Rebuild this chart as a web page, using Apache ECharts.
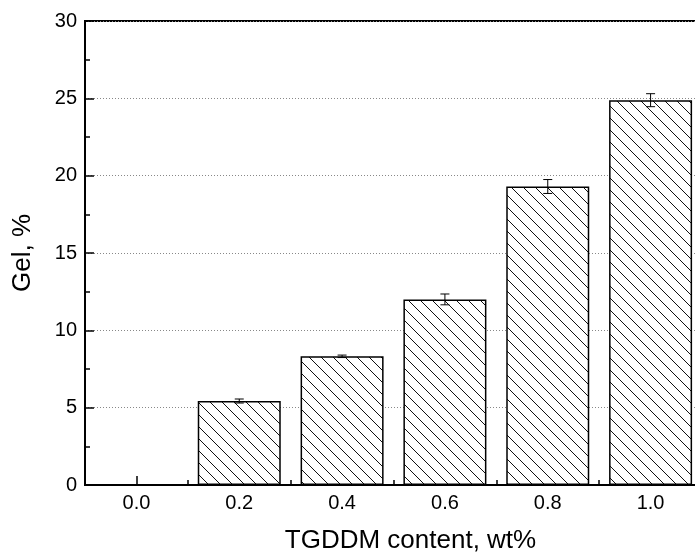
<!DOCTYPE html>
<html>
<head>
<meta charset="utf-8">
<script src="https://cdn.jsdelivr.net/npm/echarts@6/dist/echarts.min.js"></script>
<style>
  html, body { margin: 0; padding: 0; background: #fff; }
  #gelChart { width: 695px; height: 554px; }
</style>
</head>
<body>
<div id="gelChart"></div>
<script>
// data
var contents = [0.0, 0.2, 0.4, 0.6, 0.8, 1.0];
var gelValues = [0, 5.43, 8.32, 12.0, 19.3, 24.88];
var gelErrors = [0, 0.13, 0.08, 0.35, 0.45, 0.42];
var majorTicks = [0.0, 0.2, 0.4, 0.6, 0.8, 1.0];
var minorTicks = [0.1, 0.3, 0.5, 0.7, 0.9];

var FONT = "'Liberation Sans', Arial, Helvetica, sans-serif";

// hatch fill  "\\\\"
function makeHatch() {
  var c = document.createElement("canvas");
  var s = 12;
  c.width = s;
  c.height = s;
  var ctx = c.getContext("2d");
  ctx.fillStyle = "#fff";
  ctx.fillRect(0, 0, s, s);
  ctx.strokeStyle = "#111";
  ctx.lineWidth = 1;
  for (var k = -1; k <= 1; k++) {
    ctx.beginPath();
    ctx.moveTo(k * s, 0);
    ctx.lineTo(k * s + s, s);
    ctx.stroke();
  }
  return c;
}

var barData = [];
var errData = [];
for (var i = 0; i < contents.length; i++) {
  barData.push([contents[i], gelValues[i]]);
  errData.push([contents[i], gelValues[i], gelErrors[i]]);
}

var myChart = echarts.init(document.getElementById("gelChart"));

var option = {
  animation: false,
  textStyle: { fontFamily: FONT },
  grid: {
    show: true,
    left: 85,
    top: 21,
    width: 617,
    height: 464,
    borderColor: "#000",
    borderWidth: 2,
    containLabel: false,
    outerBoundsMode: "none"
  },
  xAxis: [
    {
      type: "value",
      min: -0.1,
      max: 1.1,
      position: "bottom",
      name: "TGDDM content, wt%",
      nameLocation: "middle",
      nameGap: 43,
      nameTextStyle: { fontSize: 26, color: "#000", fontFamily: FONT, padding: [0, 0, 0, 34] },
      axisLine: { show: true, onZero: false, lineStyle: { color: "#000", width: 2 } },
      axisTick: { show: true, inside: true, length: 9, lineStyle: { color: "#000", width: 1.5 }, customValues: majorTicks },
      axisLabel: {
        show: true,
        margin: 8,
        fontSize: 20,
        color: "#000",
        fontFamily: FONT,
        customValues: majorTicks,
        formatter: function (v) { return v.toFixed(1); }
      },
      splitLine: { show: false }
    },
    {
      // minor ticks only
      type: "value",
      min: -0.1,
      max: 1.1,
      position: "bottom",
      axisLine: { show: false, onZero: false },
      axisTick: { show: true, inside: true, length: 5, lineStyle: { color: "#000", width: 1.5 }, customValues: minorTicks },
      axisLabel: { show: false },
      splitLine: { show: false }
    }
  ],
  yAxis: {
    type: "value",
    min: 0,
    max: 30,
    interval: 5,
    name: "Gel, %",
    nameLocation: "middle",
    nameGap: 49,
    nameRotate: 90,
    nameTextStyle: { fontSize: 26, color: "#000", fontFamily: FONT },
    axisLine: { show: true, onZero: false, lineStyle: { color: "#000", width: 2 } },
    axisTick: { show: true, inside: true, length: 9, lineStyle: { color: "#000", width: 1.5 } },
    minorTick: { show: true, splitNumber: 2, length: 5, lineStyle: { color: "#000", width: 1.5 } },
    axisLabel: { margin: 8, fontSize: 20, color: "#000", fontFamily: FONT },
    splitLine: { show: true, lineStyle: { color: "#888", width: 1, type: [1, 2] } }
  },
  series: [
    {
      name: "Gel",
      type: "bar",
      xAxisIndex: 0,
      data: barData,
      barWidth: 83,
      itemStyle: {
        color: { image: makeHatch(), repeat: "repeat" },
        borderColor: "#000",
        borderWidth: 1.5
      },
      z: 3
    },
    {
      name: "err",
      type: "custom",
      xAxisIndex: 0,
      data: errData,
      z: 5,
      renderItem: function (params, api) {
        var e = api.value(2);
        if (!e) return null;
        var x = api.value(0);
        var y = api.value(1);
        var top = api.coord([x, y + e]);
        var bot = api.coord([x, y - e]);
        var cap = 4.5;
        var st = { stroke: "#000", lineWidth: 1 };
        return {
          type: "group",
          children: [
            { type: "line", shape: { x1: top[0], y1: top[1], x2: bot[0], y2: bot[1] }, style: st },
            { type: "line", shape: { x1: top[0] - cap, y1: top[1], x2: top[0] + cap, y2: top[1] }, style: st },
            { type: "line", shape: { x1: bot[0] - cap, y1: bot[1], x2: bot[0] + cap, y2: bot[1] }, style: st }
          ]
        };
      }
    }
  ]
};

myChart.setOption(option);
</script>
</body>
</html>
